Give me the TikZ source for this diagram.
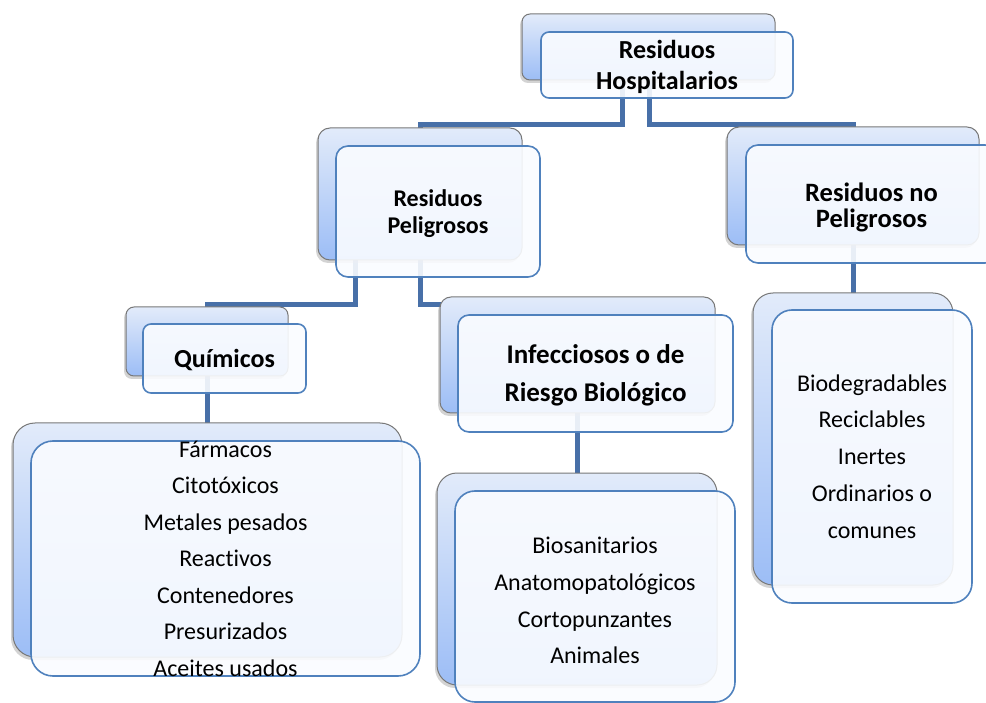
\documentclass[tikz,border=0pt]{standalone}
\usepackage{fontspec}
\setmainfont{Carlito}[Ligatures=NoCommon]
\usetikzlibrary{shadows,backgrounds}
\definecolor{connc}{RGB}{72,112,168}
\definecolor{frontc}{RGB}{79,129,189}
\definecolor{frontfill}{RGB}{250,252,255}
\definecolor{backtop}{RGB}{226,235,250}
\definecolor{backbot}{RGB}{156,189,246}
\definecolor{backdraw}{RGB}{120,120,120}
\tikzset{
 backbox/.style={draw=backdraw, line width=1pt, top color=backtop, bottom color=backbot, inner sep=0pt,
   drop shadow={shadow xshift=-2pt, shadow yshift=-3pt, opacity=0.35}},
 frontbox/.style={draw=frontc, line width=1.6pt, fill=frontfill, fill opacity=0.9, inner sep=0pt},
 boxtext/.style={inner sep=0pt, align=center, text=black},
 conn/.style={draw=connc, line width=5pt},
}
\begin{document}
\begin{tikzpicture}[x=1pt,y=-1pt]
\useasboundingbox (0,0) rectangle (986,703);
% back boxes
\node[backbox, rounded corners=8pt,  minimum width=253pt, minimum height=66pt]  (hb)  at (648.5,47) {};
\node[backbox, rounded corners=12pt, minimum width=204pt, minimum height=132pt] (pb)  at (420,194) {};
\node[backbox, rounded corners=12pt, minimum width=252pt, minimum height=118pt] (nb)  at (853,186) {};
\node[backbox, rounded corners=8pt,  minimum width=162pt, minimum height=69pt]  (qb)  at (207,341.5) {};
\node[backbox, rounded corners=11pt, minimum width=275pt, minimum height=116pt] (ib)  at (577.5,355) {};
\node[backbox, rounded corners=22pt, minimum width=389pt, minimum height=234pt] (qlb) at (207.5,540) {};
\node[backbox, rounded corners=20pt, minimum width=280pt, minimum height=212pt] (ilb) at (577,579) {};
\node[backbox, rounded corners=20pt, minimum width=200pt, minimum height=292pt] (rlb) at (853,439) {};
% front boxes
\node[frontbox, rounded corners=8pt,  minimum width=252pt, minimum height=66pt]  (hf)  at (667,65) {};
\node[frontbox, rounded corners=12pt, minimum width=204pt, minimum height=131pt] (pf)  at (438,211.5) {};
\node[frontbox, rounded corners=12pt, minimum width=251pt, minimum height=118pt] (nf)  at (871.5,204) {};
\node[frontbox, rounded corners=8pt,  minimum width=163pt, minimum height=69pt]  (qf)  at (224.5,358.5) {};
\node[frontbox, rounded corners=11pt, minimum width=275pt, minimum height=117pt] (inf) at (595.5,373.5) {};
\node[frontbox, rounded corners=22pt, minimum width=389pt, minimum height=235pt] (qlf) at (225.5,558.5) {};
\node[frontbox, rounded corners=20pt, minimum width=280pt, minimum height=211pt] (ilf) at (595,596.5) {};
\node[frontbox, rounded corners=20pt, minimum width=200pt, minimum height=293pt] (rlf) at (872,456.5) {};
% texts
\node[boxtext, font=\bfseries\fontsize{26}{31}\selectfont, yshift=-2pt] (hft) at (hf.center) {Residuos\\Hospitalarios};
\node[boxtext, font=\bfseries\fontsize{24}{27}\selectfont, yshift=-2pt] (pft) at (pf.center) {Residuos\\Peligrosos};
\node[boxtext, font=\bfseries\fontsize{26.5}{25.5}\selectfont, yshift=-3.5pt] (nft) at (nf.center) {Residuos no\\Peligrosos};
\node[boxtext, font=\bfseries\fontsize{26}{31}\selectfont, yshift=-2pt] (qft) at (qf.center) {Químicos};
\node[boxtext, font=\bfseries\fontsize{27}{38.5}\selectfont, yshift=-2pt] (ift) at (inf.center) {Infecciosos o de\\Riesgo Biológico};
\node[boxtext, font=\fontsize{24}{36.5}\selectfont] (qlt) at (qlf.center)
  {Fármacos\\Citotóxicos\\Metales pesados\\Reactivos\\Contenedores\\Presurizados\\Aceites usados};
\node[boxtext, font=\fontsize{24}{36.7}\selectfont, yshift=-4pt] (ilt) at (ilf.center)
  {Biosanitarios\\Anatomopatológicos\\Cortopunzantes\\Animales};
\node[boxtext, font=\fontsize{24}{36.8}\selectfont] (rlt) at (rlf.center)
  {Biodegradables\\Reciclables\\Inertes\\Ordinarios o\\comunes};
% connectors
\begin{pgfonlayer}{background}
\coordinate (j1) at (622,125);
\coordinate (j2) at (649,125);
\coordinate (j3) at (355,305);
\coordinate (j4) at (420,305);
\draw[conn] (hb.center -| j1) -- (j1) -| (pb.center);
\draw[conn] (hb.center -| j2) -- (j2) -| (nb.center);
\draw[conn] (pb.center -| j3) -- (j3) -| (qb.center);
\draw[conn] (pb.center -| j4) -- (j4) -| (ib.center);
\draw[conn] (qb.center) -- (qb.center |- qlb.center);
\draw[conn] (ib.center) -- (ib.center |- ilb.center);
\draw[conn] (nb.center) -- (nb.center |- rlb.center);
\end{pgfonlayer}
\end{tikzpicture}
\end{document}
